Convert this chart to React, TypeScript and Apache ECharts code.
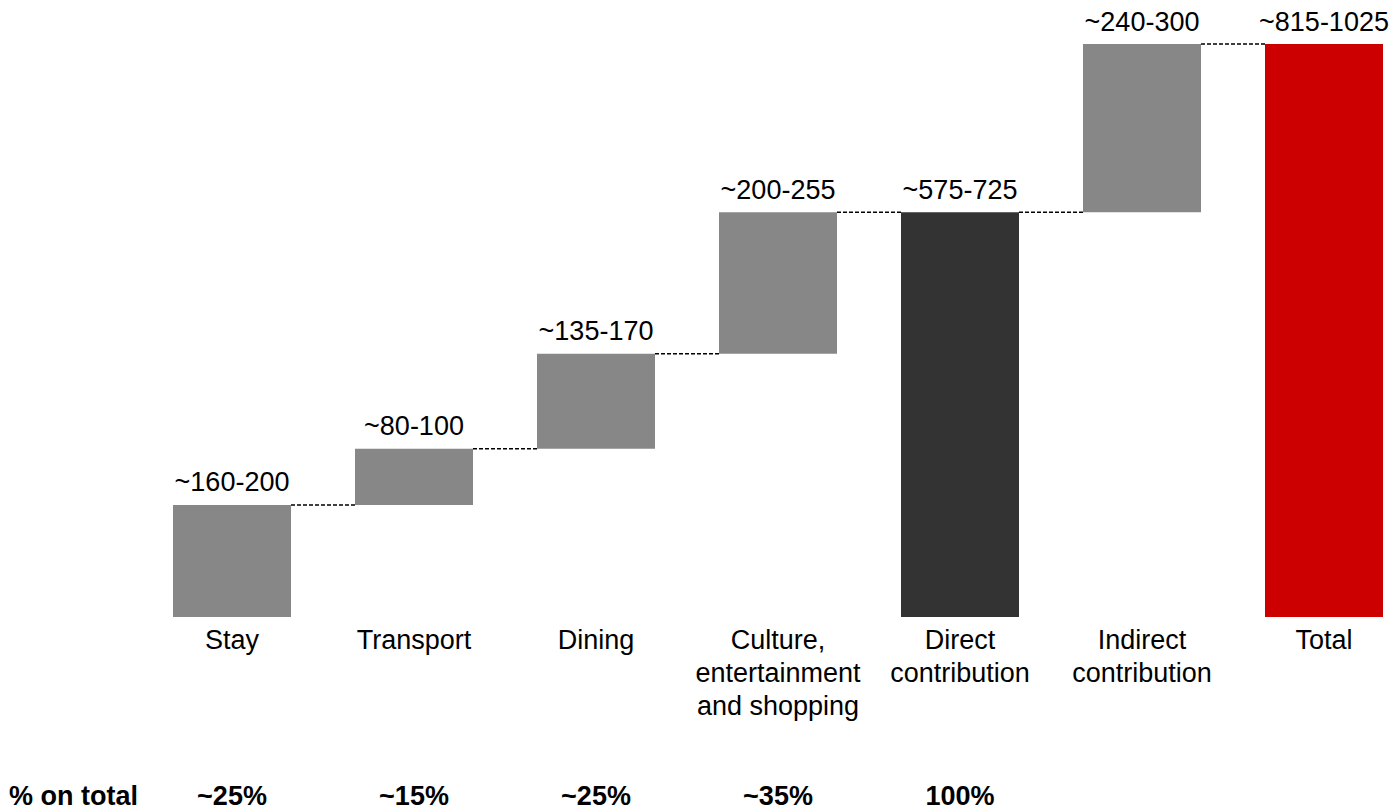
import React, { useEffect, useRef } from "react";
import * as echarts from "echarts";

const categories = [
  "Stay",
  "Transport",
  "Dining",
  "Culture,\nentertainment\nand shopping",
  "Direct\ncontribution",
  "Indirect\ncontribution",
  "Total",
];
// bar heights (midpoints of the ranges)
const barValues = [180, 90, 152.5, 227.5, 650, 270, 920];
// invisible base under floating bars
const baseValues = [0, 180, 270, 422.5, 0, 650, 0];
const rangeLabels = [
  "~160-200",
  "~80-100",
  "~135-170",
  "~200-255",
  "~575-725",
  "~240-300",
  "~815-1025",
];
const barKinds = ["part", "part", "part", "part", "direct", "part", "total"];
const shareLabels = ["~25%", "~15%", "~25%", "~35%", "100%", "", ""];
const shareTitle = "% on total";

const COLORS: Record<string, string> = {
  part: "#878787",
  direct: "#333333",
  total: "#CC0000",
};
const FONT = "'Liberation Sans', Arial, Helvetica, sans-serif";
const BAR_W = 118;
const FS = 27;

export default function App() {
  const ref = useRef<HTMLDivElement>(null);
  useEffect(() => {
    if (!ref.current) return;
    const chart = echarts.init(ref.current, null, { renderer: "svg" });
    const connectorData = barValues
      .slice(0, -1)
      .map((v, i) => [i, baseValues[i] + v]);
    const option = {
      animation: false,
      backgroundColor: "#ffffff",
      textStyle: { fontFamily: FONT },
      grid: {
        left: 141,
        width: 1274,
        top: 44,
        bottom: 192,
        containLabel: false,
        outerBoundsMode: "none",
      },
      xAxis: [
        {
          type: "category",
          data: categories,
          axisLine: { show: false },
          axisTick: { show: false },
          splitLine: { show: false },
          axisLabel: {
            interval: 0,
            color: "#000",
            fontSize: FS,
            lineHeight: 33,
            margin: 6,
            fontFamily: FONT,
          },
        },
        {
          type: "category",
          data: shareLabels,
          position: "bottom",
          offset: 156,
          axisLine: { show: false },
          axisTick: { show: false },
          splitLine: { show: false },
          axisLabel: {
            interval: 0,
            color: "#000",
            fontSize: FS,
            fontWeight: "bold",
            lineHeight: 33,
            margin: 6,
            fontFamily: FONT,
          },
        },
      ],
      yAxis: { type: "value", min: 0, max: 920, show: false },
      graphic: [
        {
          type: "text",
          left: 9,
          top: 779,
          style: {
            text: shareTitle,
            fill: "#000",
            font: `bold ${FS}px ${FONT}`,
            lineHeight: 33,
          },
        },
      ],
      series: [
        {
          type: "bar",
          stack: "w",
          silent: true,
          barWidth: BAR_W,
          itemStyle: { color: "transparent" },
          data: baseValues,
        },
        {
          type: "bar",
          stack: "w",
          barWidth: BAR_W,
          data: barValues.map((v, i) => ({
            value: v,
            itemStyle: { color: COLORS[barKinds[i]] },
          })),
          label: {
            show: true,
            position: "top",
            distance: 9,
            color: "#000",
            fontSize: FS,
            fontFamily: FONT,
            formatter: (p: any) => rangeLabels[p.dataIndex],
          },
        },
        {
          type: "custom",
          silent: true,
          data: connectorData,
          renderItem: (params: any, api: any) => {
            const c = api.coord([api.value(0), api.value(1)]);
            const band = api.size([1, 0])[0];
            return {
              type: "line",
              shape: {
                x1: c[0] + BAR_W / 2,
                y1: c[1],
                x2: c[0] + band - BAR_W / 2,
                y2: c[1],
              },
              style: { stroke: "#000", lineWidth: 1.5, lineDash: [4, 2] },
            };
          },
        },
      ],
    };
    chart.setOption(option as any);
    return () => chart.dispose();
  }, []);
  return (
    <div
      ref={ref}
      style={{ position: "fixed", left: 0, top: 0, width: 1396, height: 809 }}
    />
  );
}
